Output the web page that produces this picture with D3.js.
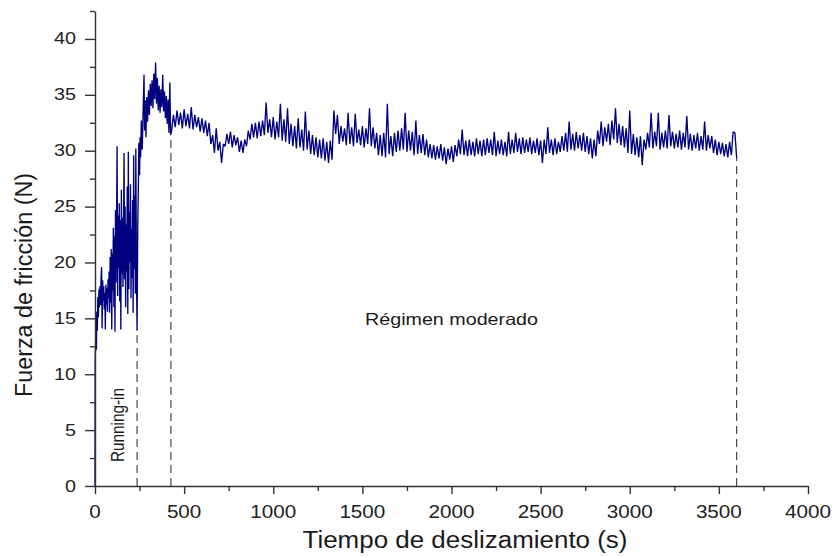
<!DOCTYPE html>
<html>
<head>
<meta charset="utf-8">
<script src="https://cdn.jsdelivr.net/npm/d3@7"></script>
<style>
  body { margin: 0; background: #fff; }
  svg { display: block; font-family: "Liberation Sans", Arial, sans-serif; }
</style>
</head>
<body>
<svg id="chart" width="836" height="557"></svg>
<script>
// Ticks of both axes
const xTicks = [0, 500, 1000, 1500, 2000, 2500, 3000, 3500, 4000];
const xMinor = [250, 750, 1250, 1750, 2250, 2750, 3250, 3750];
const yTicks = [0, 5, 10, 15, 20, 25, 30, 35, 40];
const yMinor = [2.5, 7.5, 12.5, 17.5, 22.5, 27.5, 32.5, 37.5, 42.5];

// Running-in: time (s) and friction force (N)
const tiempoInicio = [0, 1, 3, 5, 8, 10, 13, 16, 19, 22, 25, 28, 31, 34, 37, 40, 43, 46, 49, 52,
  55, 58, 61, 64, 67, 70, 73, 76, 79, 82, 85, 88, 91, 94, 97, 100, 103, 106, 109, 112,
  115, 118, 121, 124, 127, 130, 133, 136, 139, 142, 145, 148, 151, 154, 157, 160, 163, 166, 169, 172,
  175, 178, 181, 184, 187, 190, 193, 196, 199, 202, 205, 208, 211, 214, 217, 220, 223, 226, 229, 232,
  236, 240, 243, 246, 250, 253, 256, 260, 265, 270, 275, 278, 282, 286, 290, 295, 300, 305, 310, 315,
  320, 325, 330, 335, 340, 345, 350, 355, 360, 365, 370, 375, 380, 385, 390, 395, 400, 405, 410, 415,
  420, 424];
const fuerzaInicio = [0, 11.2, 12.6, 14.8, 12.2, 15.6, 13.9, 16.9, 15.1, 17.6, 16.0, 17.9, 16.2, 18.6, 19.6, 14.1, 18.4, 16.6, 17.9, 15.8,
  17.3, 14.0, 18.0, 16.2, 17.7, 15.6, 18.5, 16.8, 19.2, 15.5, 20.5, 16.4, 21.2, 14.0, 20.8, 17.5, 23.1, 16.0, 22.4, 13.8,
  24.7, 18.2, 23.5, 30.4, 17.0, 24.2, 19.5, 25.3, 16.5, 23.8, 14.0, 26.5, 19.0, 24.0, 17.8, 22.6, 29.8, 18.5, 25.0, 16.0,
  23.4, 19.2, 26.8, 15.4, 29.9, 17.6, 24.5, 20.0, 27.0, 16.8, 23.0, 18.6, 25.6, 15.5, 29.6, 19.4, 26.0, 17.2, 30.2, 20.5,
  13.9, 23.5, 26.4, 30.7, 27.8, 31.2, 29.4, 32.7, 30.1, 33.6, 36.8, 31.8, 34.5, 31.2, 34.8, 32.6, 35.4, 33.2, 36.0, 34.0,
  36.3, 33.8, 36.9, 34.6, 37.9, 34.2, 36.5, 33.6, 35.8, 33.4, 35.5, 33.9, 36.8, 33.5, 35.3, 32.9, 34.9, 32.4, 34.6, 31.6,
  36.1, 31.4];

// Moderate regime: one reading every 10 s from 430 s to 3600 s
const inicioEstable = 430;
const pasoEstable = 10;
const fuerzaEstable = [
  31.8, 33.2, 32.1, 33.6, 32.3, 33.4, 32.0, 33.7, 32.2, 33.3,   // 430
  32.0, 33.9, 31.9, 33.2, 32.1, 33.0, 31.7, 32.9, 31.6, 32.7,   // 530
  31.3, 32.5, 30.6, 31.4, 29.8, 32.0, 30.0, 30.8, 28.9, 30.6,   // 630
  30.4, 31.5, 30.6, 31.7, 30.3, 31.4, 30.5, 31.2, 29.9, 30.9,   // 730
  29.8, 31.0, 30.4, 31.8, 31.0, 32.4, 31.2, 32.5, 31.1, 32.6,   // 830
  31.3, 32.7, 31.4, 34.3, 31.6, 32.8, 31.2, 33.0, 31.0, 32.6,   // 930
  31.2, 34.2, 30.9, 32.8, 30.8, 33.8, 30.6, 32.4, 30.4, 32.2,   // 1030
  30.2, 32.9, 30.3, 31.9, 30.0, 33.5, 30.1, 31.8, 29.7, 31.4,   // 1130
  29.6, 31.2, 29.4, 31.0, 29.3, 31.1, 29.1, 30.8, 28.9, 30.9,   // 1230
  29.2, 33.6, 31.5, 33.2, 30.6, 32.2, 30.8, 32.0, 30.5, 33.4,   // 1330
  30.6, 32.1, 30.4, 33.3, 30.7, 31.9, 30.5, 32.2, 30.3, 32.0,   // 1430
  30.6, 33.8, 30.4, 32.1, 30.2, 31.6, 29.6, 31.4, 29.5, 31.6,   // 1530
  29.4, 34.2, 29.7, 31.3, 29.5, 31.6, 29.9, 31.8, 30.0, 32.0,   // 1630
  30.1, 33.4, 29.9, 31.8, 30.0, 31.7, 29.6, 32.7, 29.7, 31.4,   // 1730
  29.8, 31.5, 29.6, 31.0, 29.4, 30.6, 29.3, 30.5, 29.2, 30.4,   // 1830
  29.3, 30.6, 29.1, 30.3, 28.8, 30.2, 29.2, 30.4, 29.0, 30.5,   // 1930
  29.5, 31.0, 29.7, 31.9, 29.6, 30.9, 29.5, 31.0, 29.6, 30.8,   // 2030
  29.5, 31.1, 29.7, 30.9, 29.5, 31.0, 29.6, 31.1, 29.8, 31.0,   // 2130
  29.6, 31.7, 29.5, 30.9, 29.7, 31.0, 29.6, 30.8, 29.5, 31.7,   // 2230
  29.7, 31.0, 29.8, 31.6, 29.9, 31.1, 29.7, 31.2, 29.8, 31.0,   // 2330
  29.9, 31.2, 29.7, 30.9, 29.8, 31.1, 29.6, 30.9, 28.9, 31.0,   // 2430
  29.7, 32.1, 29.8, 31.0, 29.6, 31.1, 29.7, 30.8, 29.9, 31.3,   // 2530
  30.0, 31.6, 29.9, 32.6, 30.1, 31.5, 30.0, 31.7, 30.2, 31.4,   // 2630
  30.0, 31.6, 29.9, 31.3, 29.7, 31.1, 29.3, 31.0, 29.5, 31.8,   // 2730
  30.6, 32.6, 30.4, 32.1, 30.8, 32.4, 30.5, 32.7, 31.0, 33.8,   // 2830
  30.7, 32.4, 30.5, 32.2, 30.3, 32.0, 29.8, 33.6, 29.7, 31.5,   // 2930
  29.6, 31.2, 29.4, 31.3, 28.7, 31.0, 30.1, 31.6, 30.3, 33.4,   // 3030
  30.2, 31.7, 30.4, 33.4, 30.1, 31.6, 30.3, 31.8, 30.2, 33.2,   // 3130
  30.4, 31.7, 30.2, 31.5, 30.3, 31.8, 30.1, 31.6, 30.3, 33.1,   // 3230
  30.1, 31.5, 30.0, 31.4, 30.2, 31.6, 30.0, 31.3, 30.1, 32.6,   // 3330
  30.0, 31.4, 30.2, 31.3, 29.8, 31.0, 29.6, 30.8, 29.7, 30.7,   // 3430
  29.5, 30.6, 29.4, 30.8, 29.6, 31.7, 31.6, 29.3               // 3530
];

// Dashed lines marking the regimes
const tiempoTransicion = [236, 426, 3600];
const fuerzaTransicion = [13.9, 31.3, 29.3];

const svg = d3.select("#chart");

const x = d3.scaleLinear().domain([0, 4000]).range([95, 808]);
const y = d3.scaleLinear().domain([0, 42.5]).range([486, 11]);

const datos = tiempoInicio.map((t, i) => ({ t: t, f: fuerzaInicio[i] }))
  .concat(fuerzaEstable.map((f, i) => ({ t: inicioEstable + i * pasoEstable, f: f })));

// dashed markers
svg.append("g").selectAll("line")
  .data(tiempoTransicion)
  .join("line")
  .attr("x1", d => x(d)).attr("x2", d => x(d))
  .attr("y1", y(0)).attr("y2", (d, i) => y(fuerzaTransicion[i]))
  .attr("stroke", "#222")
  .attr("stroke-width", 1)
  .attr("stroke-dasharray", "8,5");

// friction signal
const line = d3.line().x(d => x(d.t)).y(d => y(d.f));
svg.append("path")
  .datum(datos)
  .attr("d", line)
  .attr("fill", "none")
  .attr("stroke", "#000080")
  .attr("stroke-width", 1.35)
  .attr("stroke-linejoin", "bevel");

// axes
const axisColor = "#333";
function styleAxis(g) {
  g.selectAll("path, line").attr("stroke", axisColor).attr("stroke-width", 1.4);
}

const gx = svg.append("g").attr("transform", `translate(0,${y(0)})`)
  .call(d3.axisBottom(x).tickValues(xTicks).tickSize(8).tickSizeOuter(0).tickFormat(""));
svg.append("g").attr("transform", `translate(0,${y(0)})`)
  .call(d3.axisBottom(x).tickValues(xMinor).tickSize(5).tickSizeOuter(0).tickFormat(""))
  .call(g => g.select(".domain").remove())
  .call(styleAxis);
styleAxis(gx);

const gy = svg.append("g").attr("transform", `translate(${x(0)},0)`)
  .call(d3.axisLeft(y).tickValues(yTicks).tickSize(10).tickSizeOuter(0).tickFormat(""));
svg.append("g").attr("transform", `translate(${x(0)},0)`)
  .call(d3.axisLeft(y).tickValues(yMinor).tickSize(5).tickSizeOuter(0).tickFormat(""))
  .call(g => g.select(".domain").remove())
  .call(styleAxis);
styleAxis(gy);

// tick labels
svg.append("g").selectAll("text")
  .data(xTicks)
  .join("text")
  .attr("x", d => x(d))
  .attr("y", 518)
  .attr("text-anchor", "middle")
  .attr("font-size", 18.5)
  .attr("fill", "#222")
  .attr("textLength", d => String(d).length * 11.5)
  .attr("lengthAdjust", "spacingAndGlyphs")
  .text(d => d);

svg.append("g").selectAll("text")
  .data(yTicks)
  .join("text")
  .attr("x", 76)
  .attr("y", d => y(d) + 5.5)
  .attr("text-anchor", "end")
  .attr("font-size", 16)
  .attr("fill", "#222")
  .attr("textLength", d => String(d).length * 11)
  .attr("lengthAdjust", "spacingAndGlyphs")
  .text(d => d);

// axis titles
svg.append("text")
  .attr("x", 465).attr("y", 548)
  .attr("text-anchor", "middle")
  .attr("font-size", 23)
  .attr("fill", "#1a1a1a")
  .attr("textLength", 325)
  .attr("lengthAdjust", "spacingAndGlyphs")
  .text("Tiempo de deslizamiento (s)");

svg.append("text")
  .attr("transform", "translate(32,285) scale(1.08,1) rotate(-90)")
  .attr("text-anchor", "middle")
  .attr("font-size", 23)
  .attr("fill", "#1a1a1a")
  .attr("textLength", 224)
  .attr("lengthAdjust", "spacingAndGlyphs")
  .text("Fuerza de fricción (N)");

// annotations
svg.append("text")
  .attr("x", x(2000)).attr("y", y(14.4))
  .attr("text-anchor", "middle")
  .attr("font-size", 16.5)
  .attr("fill", "#1a1a1a")
  .attr("textLength", 173)
  .attr("lengthAdjust", "spacingAndGlyphs")
  .text("Régimen moderado");

svg.append("text")
  .attr("transform", `translate(${x(160)},${y(5.45)}) scale(1.2,1) rotate(-90)`)
  .attr("text-anchor", "middle")
  .attr("font-size", 15.5)
  .attr("fill", "#1a1a1a")
  .attr("textLength", 74)
  .attr("lengthAdjust", "spacingAndGlyphs")
  .text("Running-in");
</script>
</body>
</html>
